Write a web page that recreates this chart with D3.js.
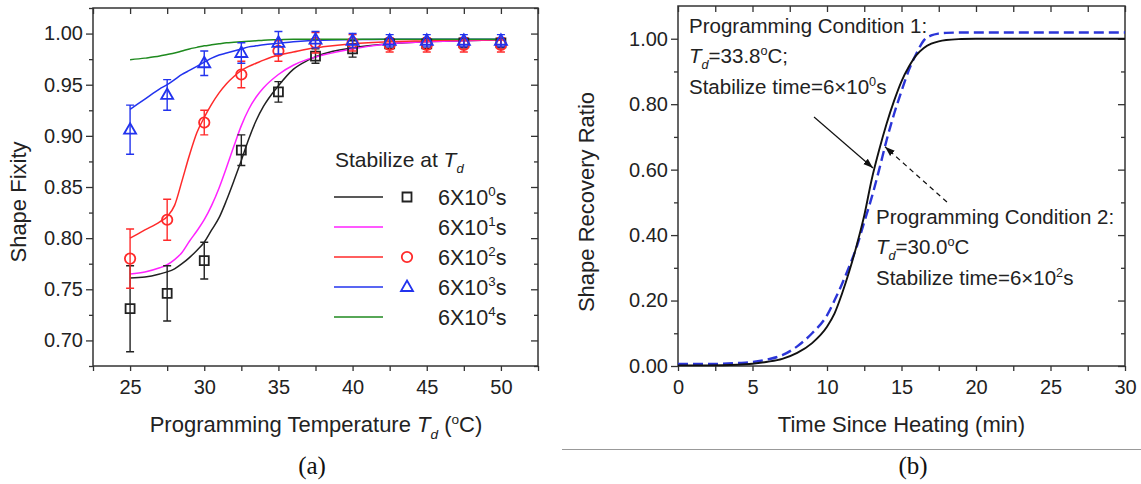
<!DOCTYPE html>
<html lang="en">
<head>
<meta charset="utf-8">
<title>Shape Fixity and Shape Recovery</title>
<script src="https://d3js.org/d3.v7.min.js"></script>
<style>
  body { margin: 0; background: #fff; }
  svg { display: block; font-family: 'Liberation Sans', Arial, sans-serif; }
  .axis line { stroke: #333; stroke-width: 1.3px; }
  .axis text { font-size: 20px; fill: #222; font-family: 'Liberation Sans', Arial, sans-serif; }
  .frame { fill: none; stroke: #333; stroke-width: 1.5px; }
  .title { fill: #222; }
  .note, .legend text { fill: #222; }
  .panel { font-family: 'Liberation Serif', 'Times New Roman', serif; font-size: 25px; fill: #111; }
</style>
</head>
<body>
<svg id="chart" width="1141" height="484"></svg>
<script>

// ---------- panel (a): shape fixity vs programming temperature
var temps = [25, 27.5, 30, 32.5, 35, 37.5, 40, 42.5, 45, 47.5, 50];
var fix0 = [0.731, 0.746, 0.778, 0.886, 0.943, 0.978, 0.985, 0.990, 0.990, 0.991, 0.991];
var err0 = [0.042, 0.027, 0.018, 0.015, 0.010, 0.007, 0.008, 0.005, 0.005, 0.005, 0.005];
var fix2 = [0.780, 0.818, 0.913, 0.960, 0.983, 0.991, 0.991, 0.989, 0.989, 0.989, 0.989];
var err2 = [0.029, 0.020, 0.012, 0.013, 0.010, 0.010, 0.008, 0.007, 0.007, 0.007, 0.007];
var fix3 = [0.906, 0.940, 0.971, 0.981, 0.991, 0.994, 0.993, 0.993, 0.993, 0.993, 0.993];
var err3 = [0.024, 0.015, 0.012, 0.010, 0.011, 0.008, 0.007, 0.006, 0.006, 0.006, 0.006];

// fitted curves on a common temperature grid
var fitT = [25, 26, 27, 27.5, 28, 28.5, 29, 29.5, 30, 30.5, 31, 31.5, 32, 32.5, 33, 33.5, 34, 35, 36, 37, 38, 40, 42.5, 45, 47.5, 50];
var fit0 = [0.761, 0.762, 0.765, 0.767, 0.770, 0.775, 0.781, 0.788, 0.796, 0.808, 0.820, 0.837, 0.856, 0.876, 0.897, 0.915, 0.929, 0.949, 0.965, 0.974, 0.980, 0.986, 0.990, 0.992, 0.993, 0.994];
var fit1 = [0.765, 0.767, 0.771, 0.774, 0.779, 0.786, 0.797, 0.807, 0.818, 0.832, 0.849, 0.869, 0.890, 0.910, 0.926, 0.938, 0.947, 0.960, 0.969, 0.975, 0.979, 0.985, 0.990, 0.992, 0.993, 0.994];
var fit2 = [0.800, 0.808, 0.816, 0.821, 0.832, 0.856, 0.881, 0.903, 0.918, 0.931, 0.942, 0.951, 0.958, 0.964, 0.968, 0.971, 0.974, 0.979, 0.982, 0.985, 0.987, 0.990, 0.992, 0.993, 0.994, 0.994];
var fit3 = [0.926, 0.936, 0.946, 0.950, 0.955, 0.960, 0.964, 0.968, 0.972, 0.976, 0.979, 0.981, 0.983, 0.985, 0.987, 0.988, 0.989, 0.9905, 0.992, 0.993, 0.9935, 0.994, 0.9945, 0.9945, 0.9945, 0.9945];
var fit4 = [0.9745, 0.976, 0.978, 0.9795, 0.981, 0.983, 0.985, 0.9865, 0.988, 0.989, 0.990, 0.991, 0.9915, 0.992, 0.9925, 0.993, 0.9935, 0.994, 0.9945, 0.9945, 0.9945, 0.9945, 0.9945, 0.9945, 0.9945, 0.9945];

var legendExp = ['0', '1', '2', '3', '4'];
var tempTicks = [25, 30, 35, 40, 45, 50];
var fixTicks = [0.70, 0.75, 0.80, 0.85, 0.90, 0.95, 1.00];

// ---------- panel (b): shape recovery ratio vs time
var timeT = [0, 2, 4, 5, 6, 7, 8, 9, 10, 10.5, 11, 11.5, 12, 12.5, 13, 13.5, 14, 14.5, 15, 15.5, 16, 16.5, 17, 17.5, 18, 19, 20, 25, 30];
var rec1 = [0.002, 0.002, 0.004, 0.007, 0.013, 0.022, 0.040, 0.070, 0.120, 0.160, 0.220, 0.290, 0.370, 0.460, 0.570, 0.660, 0.740, 0.810, 0.870, 0.915, 0.950, 0.972, 0.985, 0.992, 0.996, 0.999, 1.000, 1.000, 1.000];
var rec2 = [0.006, 0.006, 0.009, 0.012, 0.020, 0.033, 0.060, 0.100, 0.155, 0.200, 0.250, 0.305, 0.365, 0.440, 0.515, 0.600, 0.690, 0.770, 0.840, 0.905, 0.955, 0.995, 1.010, 1.016, 1.018, 1.019, 1.019, 1.019, 1.019];
var timeTicks = [0, 5, 10, 15, 20, 25, 30];
var ratioTicks = [0, 0.2, 0.4, 0.6, 0.8, 1.0];

var svg = d3.select('#chart');

svg.append('rect').attr('width', 1141).attr('height', 484).attr('fill', '#fff');

var richText = function(parent, x, y, parts, size) {
  var t = parent.append('text').attr('x', x).attr('y', y).style('font-size', size + 'px');
  var cur = 0;
  parts.forEach(function(p) {
    var kind = p[1] || '';
    var shift = kind.indexOf('sub') >= 0 ? size * 0.3 : (kind.indexOf('sup') >= 0 ? -size * 0.38 : 0);
    var s = t.append('tspan').text(p[0]).attr('dy', shift - cur);
    cur = shift;
    if (kind.indexOf('i') === 0) s.style('font-style', 'italic');
    if (shift !== 0) s.style('font-size', (size * 0.62) + 'px');
  });
  return t;
};

var drawAxes = function(x, y, xMinor, yMajor, yMinor, yFmt) {
  var r = x.range(), d = y.range();
  var add = function(axis, tx, ty) {
    svg.append('g').attr('class', 'axis')
       .attr('transform', 'translate(' + tx + ',' + ty + ')')
       .call(axis)
       .call(function(g) { g.select('.domain').remove(); });
  };
  add(d3.axisBottom(x).tickValues(xMinor).tickSize(5).tickPadding(9)
        .tickFormat(function(v) { return x.tickLabels.indexOf(v) >= 0 ? v : ''; }), 0, d[0]);
  add(d3.axisTop(x).tickValues(xMinor).tickSize(-6).tickFormat(''), 0, d[1]);
  add(d3.axisLeft(y).tickValues(yMajor).tickSize(7).tickPadding(3).tickFormat(yFmt), r[0], 0);
  add(d3.axisLeft(y).tickValues(yMinor).tickSize(4).tickFormat(''), r[0], 0);
  add(d3.axisRight(y).tickValues(yMajor).tickSize(-7).tickFormat(''), r[1], 0);
  add(d3.axisRight(y).tickValues(yMinor).tickSize(-4).tickFormat(''), r[1], 0);
  svg.append('rect').attr('class', 'frame')
     .attr('x', r[0]).attr('y', d[1]).attr('width', r[1] - r[0]).attr('height', d[0] - d[1]);
};

// ================= panel (a)
var xA = d3.scaleLinear().domain([22.5, 52.5]).range([93, 538]);
var yA = d3.scaleLinear().domain([0.675, 1.025]).range([366, 8]);
xA.tickLabels = tempTicks;

drawAxes(xA, yA, d3.range(22.5, 52.6, 2.5), fixTicks,
         d3.range(0, 8).map(function(i) { return 0.675 + i * 0.05; }), d3.format('.2f'));

var colors = ['#222222', '#ff22ff', '#ff2a2a', '#2233ee', '#1f8a1f'];
var fits = [fit0, fit1, fit2, fit3, fit4];

var lineA = d3.line()
  .x(function(d) { return xA(d[0]); })
  .y(function(d) { return yA(d[1]); })
  .curve(d3.curveMonotoneX);

fits.forEach(function(f, i) {
  svg.append('path')
     .datum(fitT.map(function(t, j) { return [t, f[j]]; }))
     .attr('d', lineA)
     .attr('fill', 'none')
     .attr('stroke', colors[i])
     .attr('stroke-width', 1.5);
});

var symbolPath = function(kind, cx, cy) {
  if (kind === 'square') return 'M' + (cx - 4.5) + ',' + (cy - 4.5) + 'h9v9h-9z';
  if (kind === 'circle') return 'M' + (cx - 5.2) + ',' + cy + 'a5.2,5.2 0 1,0 10.4,0a5.2,5.2 0 1,0 -10.4,0z';
  return 'M' + cx + ',' + (cy - 6.5) + 'L' + (cx + 6) + ',' + (cy + 4) + 'L' + (cx - 6) + ',' + (cy + 4) + 'z';
};

var pointSets = [
  { vals: fix0, errs: err0, color: colors[0], kind: 'square' },
  { vals: fix2, errs: err2, color: colors[2], kind: 'circle' },
  { vals: fix3, errs: err3, color: colors[3], kind: 'triangle' }
];

pointSets.forEach(function(s) {
  var g = svg.append('g');
  var pts = temps.map(function(t, i) { return { t: t, v: s.vals[i], e: s.errs[i] }; });
  g.selectAll('.err').data(pts).enter().append('path')
   .attr('d', function(d) {
     var x = xA(d.t), y1 = yA(d.v + d.e), y2 = yA(d.v - d.e);
     return 'M' + x + ',' + y1 + 'V' + y2 + 'M' + (x - 4) + ',' + y1 + 'h8M' + (x - 4) + ',' + y2 + 'h8';
   })
   .attr('stroke', s.color).attr('stroke-width', 1.4).attr('fill', 'none');
  g.selectAll('.pt').data(pts).enter().append('path')
   .attr('d', function(d) { return symbolPath(s.kind, xA(d.t), yA(d.v)); })
   .attr('fill', 'none').attr('stroke', s.color).attr('stroke-width', 1.8);
});

// legend
var leg = svg.append('g').attr('class', 'legend');
richText(leg, 335, 167, [['Stabilize at '], ['T', 'i'], ['d', 'isub']], 21);
var legKinds = ['square', null, 'circle', 'triangle', null];
legendExp.forEach(function(e, i) {
  var y = 197 + i * 30;
  leg.append('line').attr('x1', 334).attr('x2', 383).attr('y1', y).attr('y2', y)
     .attr('stroke', colors[i]).attr('stroke-width', 1.5);
  if (legKinds[i]) {
    leg.append('path').attr('d', symbolPath(legKinds[i], 407, y))
       .attr('fill', 'none').attr('stroke', colors[i]).attr('stroke-width', 1.8);
  }
  richText(leg, 438, y + 7.5, [['6X10'], [e, 'sup'], ['s']], 21.5);
});

// axis titles (a)
richText(svg, 316, 432, [['Programming Temperature '], ['T', 'i'], ['d', 'isub'], [' ('], ['o', 'sup'], ['C)']], 22)
  .attr('class', 'title').attr('text-anchor', 'middle');
svg.append('text').attr('class', 'title').attr('text-anchor', 'middle').style('font-size', '22px')
   .attr('transform', 'translate(26,202) rotate(-90)').text('Shape Fixity');

// ================= panel (b)
var xB = d3.scaleLinear().domain([0, 30]).range([678, 1125]);
var yB = d3.scaleLinear().domain([0, 1.1]).range([366, 6]);
xB.tickLabels = timeTicks;

drawAxes(xB, yB, d3.range(0, 30.1, 2.5), ratioTicks,
         [0.1, 0.3, 0.5, 0.7, 0.9], d3.format('.2f'));

var lineB = d3.line()
  .x(function(d) { return xB(d[0]); })
  .y(function(d) { return yB(d[1]); })
  .curve(d3.curveMonotoneX);

svg.append('path')
   .datum(timeT.map(function(t, j) { return [t, rec2[j]]; }))
   .attr('d', lineB).attr('fill', 'none')
   .attr('stroke', '#2b35d8').attr('stroke-width', 2.4).attr('stroke-dasharray', '10,5');

svg.append('path')
   .datum(timeT.map(function(t, j) { return [t, rec1[j]]; }))
   .attr('d', lineB).attr('fill', 'none')
   .attr('stroke', '#111').attr('stroke-width', 1.9);

// arrows
var defs = svg.append('defs');
defs.append('marker').attr('id', 'head')
    .attr('viewBox', '0 0 10 10').attr('refX', 10).attr('refY', 5)
    .attr('markerWidth', 10).attr('markerHeight', 10).attr('markerUnits', 'userSpaceOnUse')
    .attr('orient', 'auto')
    .append('path').attr('d', 'M0,1.5L10,5L0,8.5z').attr('fill', '#111');

var arrows = [
  { from: [9.13, 0.761], to: [13.09, 0.605], dash: null },
  { from: [18.05, 0.501], to: [13.89, 0.67], dash: '5,4' }
];
arrows.forEach(function(a) {
  svg.append('line')
     .attr('x1', xB(a.from[0])).attr('y1', yB(a.from[1]))
     .attr('x2', xB(a.to[0])).attr('y2', yB(a.to[1]))
     .attr('stroke', '#111').attr('stroke-width', 1.2)
     .attr('stroke-dasharray', a.dash)
     .attr('marker-end', 'url(#head)');
});

var notes = svg.append('g').attr('class', 'note');
richText(notes, 689, 33, [['Programming Condition 1:']], 20.5);
richText(notes, 689, 63, [['T', 'i'], ['d', 'isub'], ['=33.8'], ['o', 'sup'], ['C;']], 20.5);
richText(notes, 689, 94, [['Stabilize time=6\u00d710'], ['0', 'sup'], ['s']], 20.5);
richText(notes, 876, 224, [['Programming Condition 2:']], 20.5);
richText(notes, 876, 254, [['T', 'i'], ['d', 'isub'], ['=30.0'], ['o', 'sup'], ['C']], 20.5);
richText(notes, 876, 285, [['Stabilize time=6\u00d710'], ['2', 'sup'], ['s']], 20.5);

richText(svg, 901.5, 432, [['Time Since Heating (min)']], 22)
  .attr('class', 'title').attr('text-anchor', 'middle');
svg.append('text').attr('class', 'title').attr('text-anchor', 'middle').style('font-size', '22px')
   .attr('transform', 'translate(594,202) rotate(-90)').text('Shape Recovery Ratio');

// separator and panel letters
svg.append('line').attr('x1', 562).attr('x2', 1141).attr('y1', 449.5).attr('y2', 449.5)
   .attr('stroke', '#999').attr('stroke-width', 1);
svg.append('text').attr('class', 'panel').attr('text-anchor', 'middle').attr('x', 312).attr('y', 474).text('(a)');
svg.append('text').attr('class', 'panel').attr('text-anchor', 'middle').attr('x', 913).attr('y', 474).text('(b)');

</script>
</body>
</html>
